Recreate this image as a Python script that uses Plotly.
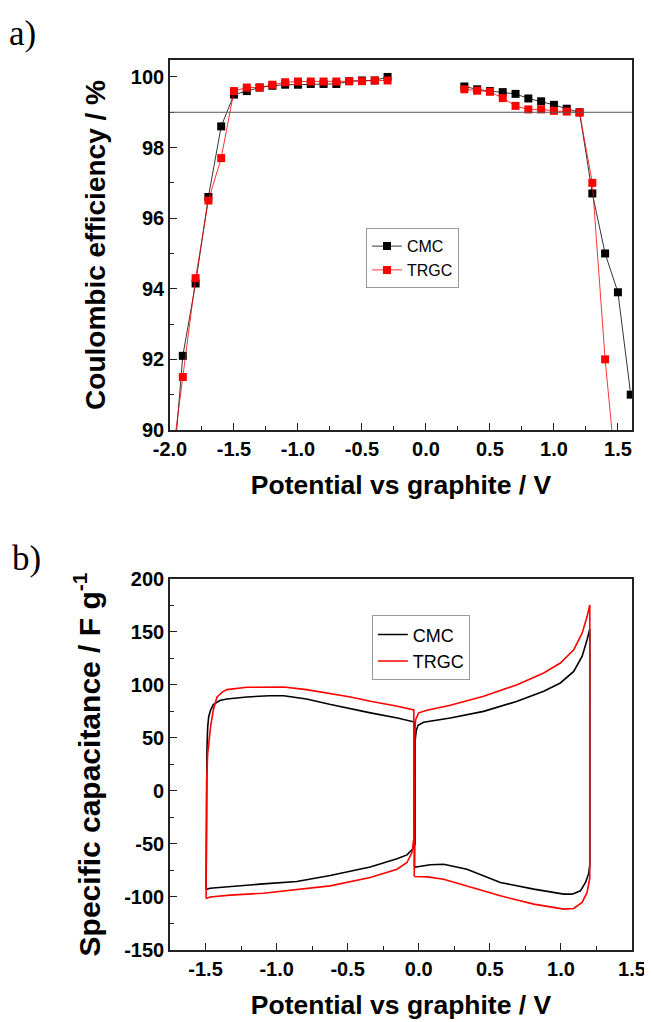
import plotly.graph_objects as go
from plotly.subplots import make_subplots

# ---------------- Panel a) : Coulombic efficiency ----------------
pot_neg = [-2.0, -1.9, -1.8, -1.7, -1.6, -1.5, -1.4, -1.3, -1.2, -1.1, -1.0,
           -0.9, -0.8, -0.7, -0.6, -0.5, -0.4, -0.3]
pot_pos = [0.3, 0.4, 0.5, 0.6, 0.7, 0.8, 0.9, 1.0, 1.1, 1.2, 1.3, 1.4, 1.5, 1.6]

ce_cmc_neg = [87.7, 92.1, 94.15, 96.6, 98.6, 99.5, 99.6, 99.7, 99.75, 99.78, 99.78,
              99.8, 99.8, 99.8, 99.88, 99.9, 99.9, 100.0]
ce_cmc_pos = [99.73, 99.65, 99.6, 99.57, 99.52, 99.39, 99.31, 99.21, 99.1, 99.0,
              96.7, 95.0, 93.9, 91.0]

ce_trgc_neg = [88.7, 91.5, 94.3, 96.5, 97.7, 99.6, 99.7, 99.7, 99.78, 99.85, 99.87,
               99.87, 99.87, 99.87, 99.88, 99.88, 99.9, 99.9]
ce_trgc_pos = [99.65, 99.61, 99.58, 99.4, 99.18, 99.08, 99.08, 99.04, 99.02, 98.99,
               97.0, 92.0, 88.2, None]

ce_reference = 99.0

ce_xtick_vals = [-2.0, -1.5, -1.0, -0.5, 0.0, 0.5, 1.0, 1.5]
ce_xtick_text = ["-2.0", "-1.5", "-1.0", "-0.5", "0.0", "0.5", "1.0", "1.5"]
ce_ytick_vals = [90, 92, 94, 96, 98, 100]
ce_ytick_text = ["90", "92", "94", "96", "98", "100"]

# ---------------- Panel b) : cyclic voltammograms ----------------
cmc_neg_v = [-1.496, -1.495, -1.493, -1.490, -1.485, -1.478, -1.465, -1.445, -1.40, -1.35,
             -1.21, -1.05, -0.95, -0.79, -0.62, -0.48, -0.34, -0.15, -0.03, -0.027,
             -0.027, -0.041, -0.083, -0.153, -0.342, -0.623, -0.858, -1.093, -1.327,
             -1.468, -1.496]
cmc_neg_c = [-93.0, -40.0, 10.0, 40.0, 60.0, 70.0, 76.0, 81.5, 85.3, 86.8,
             88.7, 89.9, 89.8, 86.8, 81.5, 77.4, 73.7, 68.9, 65.0, 0.0,
             -50.0, -54.6, -60.3, -64.0, -71.8, -79.8, -85.4, -87.6, -89.8,
             -91.7, -93.0]
cmc_pos_v = [-0.03, -0.028, -0.025, -0.018, -0.005, 0.034, 0.222, 0.456, 0.692, 0.879,
             0.996, 1.09, 1.149, 1.184, 1.203, 1.203, 1.195, 1.173, 1.137, 1.079,
             1.02, 0.809, 0.574, 0.339, 0.175, 0.081, -0.03]
cmc_pos_c = [-72.0, 0.0, 48.0, 57.0, 62.0, 64.8, 68.9, 75.1, 84.6, 94.0,
             101.9, 112.8, 126.9, 142.6, 152.7, -70.0, -78.0, -86.3, -94.2, -97.3,
             -97.3, -92.6, -86.3, -73.8, -69.1, -69.6, -72.0]

trgc_neg_v = [-1.496, -1.495, -1.492, -1.485, -1.475, -1.465, -1.445, -1.42, -1.38, -1.35,
              -1.21, -0.95, -0.79, -0.62, -0.48, -0.34, -0.15, -0.035, -0.035, -0.048,
              -0.083, -0.153, -0.342, -0.623, -0.858, -1.093, -1.327, -1.468, -1.496]
trgc_neg_c = [-101.4, -40.0, 10.0, 35.0, 48.5, 60.0, 76.7, 88.5, 93.5, 95.6,
              97.8, 98.1, 95.6, 91.8, 88.7, 84.6, 80.0, 76.5, -45.0, -58.1,
              -67.5, -73.8, -81.6, -89.5, -93.2, -96.4, -98.2, -100.0, -101.4]
trgc_pos_v = [-0.032, -0.03, -0.028, -0.022, -0.001, 0.058, 0.222, 0.456, 0.692, 0.879,
              0.996, 1.09, 1.149, 1.184, 1.203, 1.203, 1.195, 1.184, 1.149, 1.09,
              1.02, 0.809, 0.574, 0.339, 0.175, 0.06, -0.032]
trgc_pos_c = [-80.6, 0.0, 55.0, 67.3, 73.7, 76.1, 80.9, 89.3, 100.3, 111.3,
              120.7, 133.2, 148.9, 164.5, 175.5, -82.0, -90.0, -95.7, -105.1, -110.8,
              -111.4, -106.7, -98.9, -89.5, -83.2, -81.0, -80.6]

cv_xtick_vals = [-1.5, -1.0, -0.5, 0.0, 0.5, 1.0, 1.5]
cv_xtick_text = ["-1.5", "-1.0", "-0.5", "0.0", "0.5", "1.0", "1.5"]
cv_ytick_vals = [-150, -100, -50, 0, 50, 100, 150, 200]
cv_ytick_text = ["-150", "-100", "-50", "0", "50", "100", "150", "200"]

series_names = ["CMC", "TRGC"]
series_colors = ["#000000", "#ff0000"]

FONT = "Liberation Sans"

fig = make_subplots(rows=2, cols=1, vertical_spacing=0.0)

# panel a traces
fig.add_trace(go.Scatter(
    x=pot_neg + [None] + pot_pos, y=ce_cmc_neg + [None] + ce_cmc_pos,
    mode="lines+markers", name=series_names[0], legend="legend",
    line=dict(color=series_colors[0], width=0.8),
    marker=dict(symbol="square", size=8, color=series_colors[0]),
    connectgaps=False, cliponaxis=True), row=1, col=1)
fig.add_trace(go.Scatter(
    x=pot_neg + [None] + pot_pos, y=ce_trgc_neg + [None] + ce_trgc_pos,
    mode="lines+markers", name=series_names[1], legend="legend",
    line=dict(color=series_colors[1], width=0.8),
    marker=dict(symbol="square", size=8, color=series_colors[1]),
    connectgaps=False, cliponaxis=True), row=1, col=1)

# panel b traces
fig.add_trace(go.Scatter(
    x=cmc_neg_v + [None] + cmc_pos_v, y=cmc_neg_c + [None] + cmc_pos_c,
    mode="lines", name=series_names[0], legend="legend2",
    line=dict(color=series_colors[0], width=1.6), connectgaps=False), row=2, col=1)
fig.add_trace(go.Scatter(
    x=trgc_neg_v + [None] + trgc_pos_v, y=trgc_neg_c + [None] + trgc_pos_c,
    mode="lines", name=series_names[1], legend="legend2",
    line=dict(color=series_colors[1], width=1.6), connectgaps=False), row=2, col=1)

fig.add_hline(y=ce_reference, line=dict(color="#555555", width=1), row=1, col=1)

tickfont = dict(family=FONT, size=20, color="#000", weight="bold")
xtitlefont = dict(family=FONT, size=26.5, color="#000", weight="bold")
axis_common = dict(
    showline=True, linecolor="#222", linewidth=1.6, mirror=True,
    ticks="inside", ticklen=7, tickwidth=1.4, tickcolor="#222",
    showgrid=False, zeroline=False, tickfont=tickfont, automargin=False,
)

fig.update_xaxes(axis_common)
fig.update_yaxes(axis_common)

fig.update_xaxes(row=1, col=1, range=[-2.0, 1.61], tickvals=ce_xtick_vals, ticktext=ce_xtick_text,
                 minor=dict(dtick=0.25, tick0=-2.0, ticklen=4, tickwidth=1.2, tickcolor="#222", ticks="inside"),
                 title=dict(text="Potential vs graphite / V", font=xtitlefont, standoff=17))
fig.update_yaxes(row=1, col=1, range=[90, 100.48], tickvals=ce_ytick_vals, ticktext=ce_ytick_text,
                 domain=[0.5843, 1.0],
                 minor=dict(dtick=1, tick0=90, ticklen=4, tickwidth=1.2, tickcolor="#222", ticks="inside"),
                 title=dict(text="Coulombic efficiency / %",
                            font=dict(family=FONT, size=28, color="#000", weight="bold"), standoff=17))
fig.update_xaxes(row=2, col=1, range=[-1.75, 1.5], tickvals=cv_xtick_vals, ticktext=cv_xtick_text,
                 minor=dict(dtick=0.25, tick0=-1.5, ticklen=4, tickwidth=1.2, tickcolor="#222", ticks="inside"),
                 title=dict(text="Potential vs graphite / V", font=xtitlefont, standoff=17))
fig.update_yaxes(row=2, col=1, range=[-150, 200], tickvals=cv_ytick_vals, ticktext=cv_ytick_text,
                 domain=[0.0, 0.4169],
                 minor=dict(dtick=25, tick0=-150, ticklen=4, tickwidth=1.2, tickcolor="#222", ticks="inside"),
                 title=dict(text="Specific capacitance / F g<sup>-1</sup>",
                            font=dict(family=FONT, size=30, color="#000", weight="bold"), standoff=15))

# the page adds an 8px body margin, so the figure is 8px smaller than the window
fig.update_layout(
    width=644, height=1014,
    margin=dict(l=162, r=20, t=52, b=72, autoexpand=False),
    paper_bgcolor="white", plot_bgcolor="white",
    font=dict(family=FONT, color="#000"),
    legend=dict(x=0.6255, y=0.811, xanchor="right", yanchor="top",
                bordercolor="#999", borderwidth=1, bgcolor="white",
                font=dict(family=FONT, size=16, color="#000"), tracegroupgap=0),
    legend2=dict(x=0.649, y=0.376, xanchor="right", yanchor="top",
                 bordercolor="#999", borderwidth=1, bgcolor="white",
                 font=dict(family=FONT, size=18, color="#000"), tracegroupgap=0),
    annotations=[
        dict(text="a)", xref="paper", yref="paper", x=-0.352, y=1.030, xanchor="left",
             yanchor="middle", showarrow=False,
             font=dict(family="Liberation Serif", size=35, color="#000")),
        dict(text="b)", xref="paper", yref="paper", x=-0.347, y=0.440, xanchor="left",
             yanchor="middle", showarrow=False,
             font=dict(family="Liberation Serif", size=35, color="#000")),
    ],
)

fig.write_html("out.html")
